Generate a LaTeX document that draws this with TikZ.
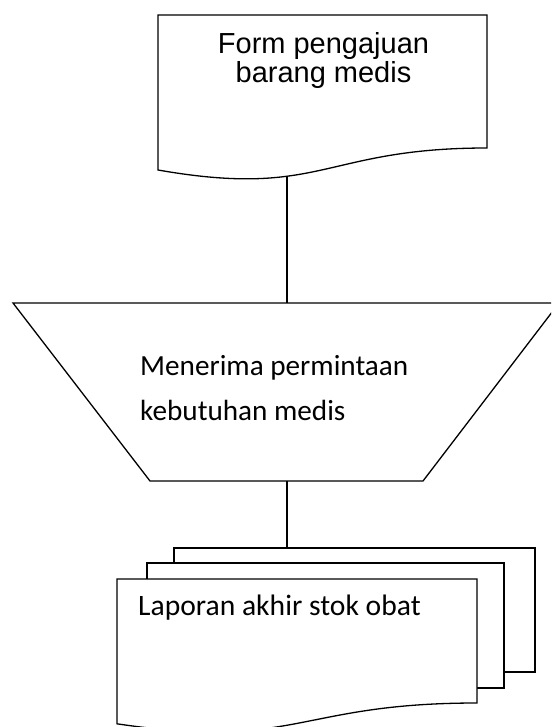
\documentclass[tikz,border=0pt]{standalone}
\usepackage{fontspec}
\newfontfamily\arialf{Liberation Sans}
\newfontfamily\calibrif{Carlito}
\begin{document}
\begin{tikzpicture}[x=1pt,y=-1pt,
  outline/.style={draw=black,line width=1.3pt,line join=miter,fill=white},
  conn/.style={draw=black,line width=1.3pt},
  arialtext/.style={font=\arialf\fontsize{29}{31}\selectfont,inner sep=0pt},
  calitext/.style={font=\calibrif\fontsize{29.2}{31}\selectfont,inner sep=0pt},
  calitextb/.style={font=\calibrif\fontsize{29.6}{31}\selectfont,inner sep=0pt}]
\useasboundingbox (0,0) rectangle (551,727);
\clip (0,0) rectangle (551,727);
% --- top document: Form pengajuan barang medis
\draw[outline] (158,15) -- (487,15) -- (487,148)
  .. controls (322.5,148) and (322.5,198.8) .. (158,170) -- cycle;
\node[arialtext,anchor=base] (form1) at (323.5,54) {Form pengajuan};
\node[arialtext,anchor=base] (form2) at (323.5,83) {barang medis};
\coordinate (formbot) at (287,176.5);
% --- manual operation trapezoid
\draw[outline] (13,303) -- (559,303) -- (423,481) -- (150,481) -- cycle;
\coordinate (traptop) at (287,303);
\coordinate (trapbot) at (287,481);
\node[calitext,anchor=base west] (mt1) at (140,375.6) {Menerima permintaan};
\node[calitext,anchor=base west] (mt2) at (140,420.5) {kebutuhan medis};
% --- multi document
\draw[outline] (174,548) rectangle (535,672);
\draw[outline] (147,563) rectangle (504,688);
\draw[outline] (117,579) -- (477,579) -- (477,703)
  .. controls (297,703) and (297,750.5) .. (117,723.8) -- cycle;
\coordinate (doctop) at (287,548);
\node[calitextb,anchor=base west] (lap) at (138,615) {Laporan akhir stok obat};
% --- connectors
\draw[conn] (formbot) -- (traptop);
\draw[conn] (trapbot) -- (doctop);
\end{tikzpicture}
\end{document}
